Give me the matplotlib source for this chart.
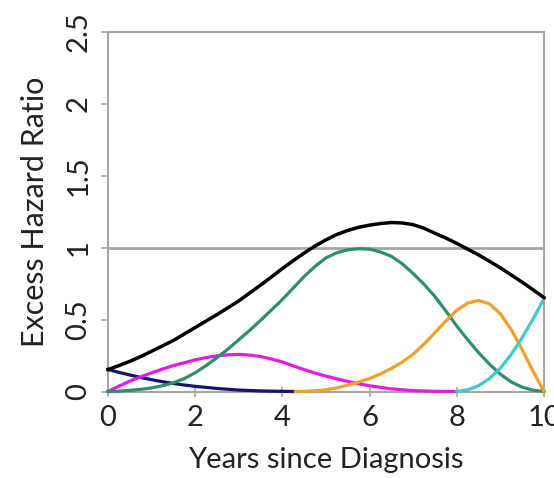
import matplotlib
matplotlib.use("Agg")
import matplotlib.pyplot as plt

# Years since diagnosis at which the curves are tabulated (quarter-year steps)
years = [0, 0.25, 0.5, 0.75, 1, 1.25, 1.5, 1.75, 2, 2.25, 2.5, 2.75, 3, 3.25, 3.5, 3.75,
         4, 4.25, 4.5, 4.75, 5, 5.25, 5.5, 5.75, 6, 6.25, 6.5, 6.75, 7, 7.25, 7.5, 7.75,
         8, 8.25, 8.5, 8.75, 9, 9.25, 9.5, 9.75, 10]

# Overall excess hazard ratio
overall = [0.153, 0.18, 0.21, 0.243, 0.28, 0.317, 0.355, 0.4, 0.445, 0.49, 0.535, 0.582,
           0.63, 0.685, 0.74, 0.797, 0.855, 0.91, 0.963, 1.012, 1.055, 1.092, 1.12, 1.142,
           1.157, 1.168, 1.175, 1.172, 1.16, 1.135, 1.1, 1.067, 1.03, 0.99, 0.95, 0.905,
           0.86, 0.81, 0.76, 0.707, 0.653]

# Spline components
navy_x = [0, 0.25, 0.5, 0.75, 1, 1.25, 1.5, 1.75, 2, 2.5, 3, 3.5, 4, 4.3]
navy_y = [0.153, 0.133, 0.115, 0.098, 0.082, 0.068, 0.056, 0.045, 0.036, 0.021, 0.01,
          0.004, 0.001, 0.0]

magenta_x = [0, 0.25, 0.5, 0.75, 1, 1.25, 1.5, 1.75, 2, 2.25, 2.5, 2.75, 3, 3.25, 3.5,
             3.75, 4, 4.25, 4.5, 4.75, 5, 5.25, 5.5, 5.75, 6, 6.5, 7, 7.5, 8]
magenta_y = [0.0, 0.037, 0.072, 0.102, 0.13, 0.156, 0.18, 0.2, 0.22, 0.236, 0.248, 0.255,
             0.258, 0.253, 0.243, 0.226, 0.205, 0.178, 0.152, 0.128, 0.107, 0.088, 0.07,
             0.054, 0.04, 0.018, 0.006, 0.001, 0.0]

green_y = [0.0, 0.002, 0.008, 0.015, 0.025, 0.04, 0.06, 0.09, 0.13, 0.18, 0.235, 0.295,
           0.36, 0.425, 0.495, 0.567, 0.64, 0.72, 0.8, 0.87, 0.93, 0.965, 0.985, 0.993,
           0.99, 0.97, 0.94, 0.888, 0.82, 0.745, 0.66, 0.56, 0.455, 0.36, 0.27, 0.19,
           0.12, 0.066, 0.03, 0.009, 0.0]

orange_x = [4.3, 4.5, 4.75, 5, 5.25, 5.5, 5.75, 6, 6.25, 6.5, 6.75, 7, 7.25, 7.5, 7.75,
            8, 8.25, 8.5, 8.75, 9, 9.25, 9.5, 9.75, 10]
orange_y = [0.0, 0.001, 0.005, 0.012, 0.025, 0.045, 0.066, 0.09, 0.122, 0.16, 0.205, 0.26,
            0.33, 0.41, 0.49, 0.565, 0.615, 0.633, 0.61, 0.54, 0.43, 0.29, 0.14, 0.0]

cyan_x = [8, 8.25, 8.5, 8.75, 9, 9.25, 9.5, 9.75, 10]
cyan_y = [0.0, 0.012, 0.04, 0.09, 0.163, 0.258, 0.375, 0.505, 0.645]

x_ticks = [0, 2, 4, 6, 8, 10]
y_ticks = [0, 0.5, 1, 1.5, 2, 2.5]
y_tick_labels = ["0", "0.5", "1", "1.5", "2", "2.5"]

plt.rcParams['font.family'] = ['Lato', 'DejaVu Sans']

fig = plt.figure(figsize=(5.54, 4.78), dpi=100)
ax = fig.add_axes([108 / 554, (478 - 391.5) / 478, 436 / 554, (391.5 - 32) / 478])

gray = "#a6a6a6"
ax.axhline(1, color=gray, lw=2, zorder=1)

lw = 2.3
ax.plot(navy_x, navy_y, color="#14146e", lw=lw, clip_on=False, zorder=3)
ax.plot(magenta_x, magenta_y, color="#e619e6", lw=lw, clip_on=False, zorder=3)
ax.plot(years, green_y, color="#2f8f6b", lw=lw, clip_on=False, zorder=3)
ax.plot(orange_x, orange_y, color="#f0a02a", lw=lw, clip_on=False, zorder=3)
ax.plot(cyan_x, cyan_y, color="#3cccc4", lw=lw, clip_on=False, zorder=3)
ax.plot(years, overall, color="black", lw=2.5, clip_on=False, zorder=4)

ax.set_xlim(0, 10)
ax.set_ylim(0, 2.5)
ax.set_xticks(x_ticks)
ax.set_yticks(y_ticks)
ax.set_yticklabels(y_tick_labels, rotation=90, va="center")

for s in ax.spines.values():
    s.set_color(gray)
    s.set_linewidth(1.5)

ax.tick_params(axis="x", direction="inout", length=7, width=1.2, color=gray,
               labelsize=21, pad=6, labelcolor="#222222")
ax.tick_params(axis="y", direction="out", length=5, width=1.2, color=gray,
               labelsize=21, pad=7, labelcolor="#222222")

ax.set_xlabel("Years since Diagnosis", fontsize=21, color="#222222", labelpad=12)
ax.set_ylabel("Excess Hazard Ratio", fontsize=22, color="#222222", labelpad=12)

fig.savefig("out.png", dpi=100)
